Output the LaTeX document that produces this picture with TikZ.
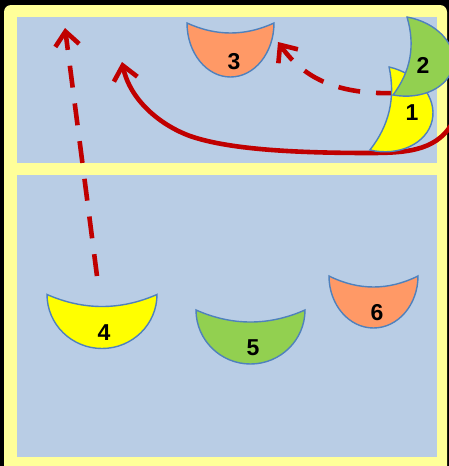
\documentclass[tikz,border=0pt]{standalone}
\usepackage{fontspec}
\setmainfont{Liberation Sans}
\usetikzlibrary{arrows.meta}
\definecolor{bordery}{HTML}{FFFF99}
\definecolor{panel}{HTML}{B9CDE5}
\definecolor{edgeblue}{HTML}{4F81BD}
\definecolor{orangef}{HTML}{FF9966}
\definecolor{yellowf}{HTML}{FFFF00}
\definecolor{greenf}{HTML}{92D050}
\definecolor{arrowred}{HTML}{C00000}
\tikzset{
  bowlline/.style={draw=edgeblue, line width=1.4pt},
  numlabel/.style={font=\fontsize{23}{23}\selectfont\bfseries, text=black, inner sep=0pt},
  redarrow/.style={draw=arrowred, line width=4.6pt, -{Straight Barb[length=14pt,width=24pt,line width=4.6pt]}},
  reddash/.style={redarrow, dash pattern=on 22pt off 16pt},
}
% #1 fill, #2 chord centre, #3 rotation, #4 half width, #5 depth, #6 sag
\newcommand{\mybowl}[6]{%
  \begin{scope}[shift={#2}, rotate=#3]
    \filldraw[bowlline, fill=#1]
      (#4,0) .. controls (#4,0.552*#5) and (0.552*#4,#5) .. (0,#5)
      .. controls (-0.552*#4,#5) and (-#4,0.552*#5) .. (-#4,0)
      .. controls (-#4/3,4*#6/3) and (#4/3,4*#6/3) .. cycle;
  \end{scope}}
\begin{document}
\begin{tikzpicture}[x=1pt, y=-1pt]
  \useasboundingbox (0,0) rectangle (449,466);
  \clip (0,0) rectangle (449,466);
  \fill[black] (0,0) rectangle (449,466);
  \fill[bordery, rounded corners=7pt] (4,5) rectangle (447,480);
  \fill[panel] (17,17) rectangle (437,163);
  \fill[panel] (17,175) rectangle (437,457);

  % bowls
  \mybowl{orangef}{(230.5,23)}{0}{43.5}{54}{10}
  \mybowl{yellowf}{(102,294.5)}{0}{55}{54}{12}
  \mybowl{greenf}{(250.5,310)}{0}{54.5}{54}{12}
  \mybowl{orangef}{(373.5,276)}{0}{44.5}{52}{11}

  % arrow end points
  \coordinate (a4s) at (97,276);
  \coordinate (a4e) at (65,28);
  \coordinate (d1s) at (398,93);
  \coordinate (d1e) at (278,42);
  \coordinate (s1s) at (455,118);
  \coordinate (s1m) at (370,153);
  \coordinate (s1n) at (190,136);
  \coordinate (s1e) at (122,62);

  \draw[reddash] (a4s) -- (a4e);
  \draw[reddash] (d1s) .. controls (340,95) and (305,80) .. (d1e);
  \draw[redarrow] (s1s) .. controls (440,150) and (410,153) .. (s1m)
     .. controls (300,153) and (230,150) .. (s1n)
     .. controls (160,125) and (130,100) .. (s1e);

  % rotated crescents
  \mybowl{yellowf}{(379.5,108.5)}{77}{42.6}{54}{10}
  \mybowl{greenf}{(400,56)}{79.8}{39.6}{54}{10}

  \node[numlabel] (l3) at (234,62) {3};
  \node[numlabel] (l4) at (104,333) {4};
  \node[numlabel] (l5) at (253,348) {5};
  \node[numlabel] (l6) at (377,313) {6};
  \node[numlabel] (l1) at (412,113) {1};
  \node[numlabel] (l2) at (423,65) {2};
\end{tikzpicture}
\end{document}
